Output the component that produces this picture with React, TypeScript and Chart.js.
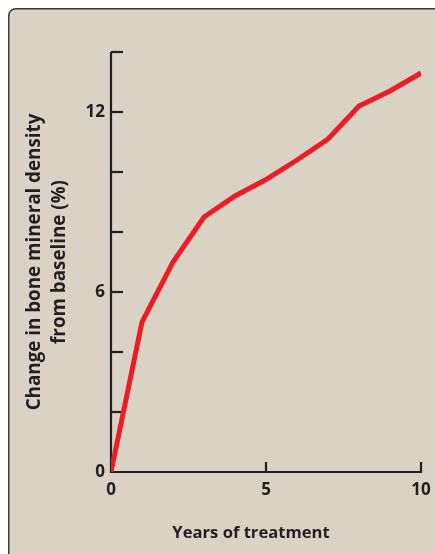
import React, { useEffect, useRef } from "react";
import { Chart, registerables } from "chart.js";

Chart.register(...registerables);

// ---- data ----
const years = [0, 1, 2, 3, 4, 5, 6, 7, 8, 9, 10];
const bmdChange = [0, 5.0, 7.0, 8.5, 9.2, 9.75, 10.4, 11.1, 12.2, 12.7, 13.3];
const yTickLabels = [0, 6, 12];
const xTickLabels = [0, 5, 10];
const yTickMarks = [2, 4, 6, 8, 10, 12, 14];
const xTickMarks = [5, 10];
const yTitleLines = ["Change in bone mineral density", "from baseline (%)"];
const xTitle = "Years of treatment";

const FONT = "'Open Sans', 'Noto Sans', sans-serif";
const INK = "#231f20";
const PANEL = "#dbd2c6";

const decorPlugin = {
  id: "decor",
  beforeDraw(chart: any) {
    const { ctx, width, height } = chart;
    ctx.save();
    ctx.fillStyle = "#ffffff";
    ctx.fillRect(0, 0, width, height);
    const r = 7;
    const o = 0.75;
    ctx.beginPath();
    ctx.moveTo(o, height + 10);
    ctx.lineTo(o, o + r);
    ctx.arcTo(o, o, o + r, o, r);
    ctx.lineTo(width + 10, o);
    ctx.lineTo(width + 10, height + 10);
    ctx.closePath();
    ctx.fillStyle = PANEL;
    ctx.fill();
    ctx.lineWidth = 1.5;
    ctx.strokeStyle = "#3a3a3a";
    ctx.beginPath();
    ctx.moveTo(o, height + 10);
    ctx.lineTo(o, o + r);
    ctx.arcTo(o, o, o + r, o, r);
    ctx.lineTo(width + 10, o);
    ctx.stroke();
    ctx.restore();
  },
  beforeDatasetsDraw(chart: any) {
    const { ctx } = chart;
    const xs = chart.scales.x;
    const ys = chart.scales.y;
    const x0 = xs.getPixelForValue(0);
    const y0 = ys.getPixelForValue(0);
    ctx.save();
    ctx.strokeStyle = INK;
    ctx.lineWidth = 2.2;
    ctx.lineCap = "butt";
    // y axis
    ctx.beginPath();
    ctx.moveTo(x0, ys.getPixelForValue(14));
    ctx.lineTo(x0, y0 + 1.1);
    ctx.stroke();
    for (const v of yTickMarks) {
      const y = ys.getPixelForValue(v);
      ctx.beginPath();
      ctx.moveTo(x0, y);
      ctx.lineTo(x0 + 12, y);
      ctx.stroke();
    }
    // x axis
    ctx.beginPath();
    ctx.moveTo(x0 - 1.1, y0);
    ctx.lineTo(xs.getPixelForValue(10) + 1.1, y0);
    ctx.stroke();
    for (const v of xTickMarks) {
      const x = xs.getPixelForValue(v);
      ctx.beginPath();
      ctx.moveTo(x, y0);
      ctx.lineTo(x, y0 - 10);
      ctx.stroke();
    }
    ctx.restore();
  },
  afterDraw(chart: any) {
    const { ctx } = chart;
    ctx.save();
    ctx.fillStyle = INK;
    ctx.textAlign = "center";
    ctx.textBaseline = "middle";
    ctx.font = `bold 16.6px ${FONT}`;
    ctx.fillText(xTitle, 243, 525);
    const cy = (chart.chartArea.top + chart.chartArea.bottom) / 2;
    ctx.translate(27, cy);
    ctx.rotate(-Math.PI / 2);
    ctx.font = `bold 18.8px ${FONT}`;
    ctx.fillText(yTitleLines[0], 0, 0);
    ctx.fillText(yTitleLines[1], 0, 25);
    ctx.restore();
  },
};

export default function App() {
  const ref = useRef<HTMLCanvasElement | null>(null);
  useEffect(() => {
    if (!ref.current) return;
    const chart = new Chart(ref.current, {
      type: "line",
      data: {
        datasets: [
          {
            data: years.map((x, i) => ({ x, y: bmdChange[i] })),
            borderColor: "#ed1c24",
            borderWidth: 5,
            pointRadius: 0,
            tension: 0,
            fill: false,
            borderCapStyle: "butt",
            borderJoinStyle: "miter",
          },
        ],
      },
      options: {
        animation: false,
        responsive: true,
        maintainAspectRatio: false,
        layout: { padding: { left: 0, top: 44, right: 14, bottom: 0 } },
        plugins: { legend: { display: false }, tooltip: { enabled: false } },
        scales: {
          x: {
            type: "linear",
            min: 0,
            max: 10,
            afterFit: (s: any) => {
              s.height = 82;
              s.paddingLeft = 0;
              s.paddingRight = 0;
            },
            afterBuildTicks: (s: any) => {
              s.ticks = xTickLabels.map((v) => ({ value: v }));
            },
            ticks: {
              color: INK,
              font: { family: FONT, size: 17, weight: "bold" },
              padding: 8,
              maxRotation: 0,
              callback: (v: any) => String(v),
            },
            grid: { display: false, drawTicks: false },
            border: { display: false },
          },
          y: {
            type: "linear",
            min: 0,
            max: 14,
            afterFit: (s: any) => {
              s.width = 103;
              s.paddingTop = 0;
              s.paddingBottom = 0;
            },
            afterBuildTicks: (s: any) => {
              s.ticks = yTickLabels.map((v) => ({ value: v }));
            },
            ticks: {
              color: INK,
              font: { family: FONT, size: 17, weight: "bold" },
              padding: 6,
              callback: (v: any) => String(v),
            },
            grid: { display: false, drawTicks: false },
            border: { display: false },
          },
        },
      },
      plugins: [decorPlugin],
    });
    return () => chart.destroy();
  }, []);
  return (
    <div style={{ position: "absolute", left: 8, top: 8, width: 427, height: 546 }}>
      <canvas ref={ref} />
    </div>
  );
}
